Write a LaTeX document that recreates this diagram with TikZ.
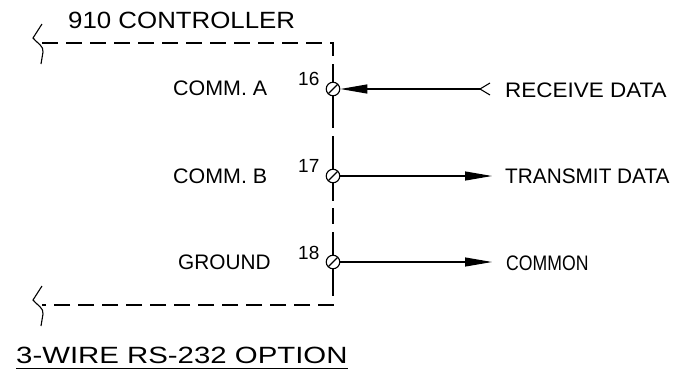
\documentclass[tikz,border=0pt]{standalone}
\usepackage{fontspec}
\setmainfont{Liberation Sans}
\usetikzlibrary{arrows.meta}
\newcommand{\fsz}[1]{\fontsize{#1}{#1}\selectfont}
\begin{document}
\begin{tikzpicture}[x=1pt,y=-1pt,
  wire/.style={line width=1.1pt},
  dashwire/.style={line width=1.1pt, dash pattern=on 16pt off 8pt},
  term/.style={circle, draw, line width=1.1pt, fill=white, minimum size=13.5pt, inner sep=0pt},
  lbl/.style={anchor=west, inner sep=0pt, font=\fsz{21}},
  num/.style={anchor=west, inner sep=0pt, font=\fsz{19}},
  big/.style={anchor=west, inner sep=0pt, font=\fsz{23.5}},
  tip/.style={-{Triangle[length=27pt,width=9pt]}}]
\useasboundingbox (0,0) rectangle (683,370);
\fill[white] (0,0) rectangle (683,370);

% frame corners
\coordinate (tl) at (42,43);
\coordinate (tr) at (333,43);
\coordinate (br) at (333,305);
\coordinate (bl) at (42,305);
\draw[dashwire] (tl) -- (tr) -- (br) -- (bl);

% break marks
\draw[wire] (42,24) -- (33,38) .. controls (37,43) and (44,46) .. (43,52) -- (41,64);
\draw[wire] (42,286) -- (33,300) .. controls (37,305) and (44,308) .. (43,314) -- (41,326);

% terminals
\node[term] (t16) at (333,89) {};
\node[term] (t17) at (333,176) {};
\node[term] (t18) at (333,262) {};
\foreach \t in {t16,t17,t18}{
  \draw[wire] ([shift={(-4.5,4.5)}]\t.center) -- ([shift={(4.5,-4.5)}]\t.center);
  \draw[wire] ([yshift=17pt]\t.north) -- (\t.north);
  \draw[wire] (\t.south) -- ([yshift=-18pt]\t.south);
}

% texts
\node[big] (ctl) at (68,20) {\scalebox{1.1}[1]{910 CONTROLLER}};
\node[lbl] (ca) at (173,88) {\scalebox{1.02}[1]{COMM. A}};
\node[lbl] (cb) at (173,176) {\scalebox{1.02}[1]{COMM. B}};
\node[lbl] (gnd) at (178,262) {\scalebox{0.99}[1]{GROUND}};
\node[num] (n16) at (298,79) {16};
\node[num] (n17) at (298,166) {17};
\node[num] (n18) at (298,253) {18};
\node[lbl] (rx) at (505,90) {\scalebox{1.07}[1]{RECEIVE DATA}};
\node[lbl] (tx) at (505,176) {\scalebox{0.99}[1]{TRANSMIT DATA}};
\node[lbl] (com) at (506,263) {\scalebox{0.84}[1]{COMMON}};
\node[big] (title) at (16,355) {\scalebox{1.25}[1]{3-WIRE RS-232 OPTION}};
\draw[wire] ([yshift=-5pt]title.base west) -- ([yshift=-5pt]title.base east);

% connectors
\coordinate (rxe) at (480,89);
\coordinate (txe) at (492,176);
\coordinate (come) at (492,262);
\draw[wire] ([shift={(10,-6)}]rxe) -- (rxe) -- ([shift={(10,6)}]rxe);
\draw[wire, tip] (rxe) -- (t16.east);
\draw[wire, tip] (t17.east) -- (txe);
\draw[wire, tip] (t18.east) -- (come);
\end{tikzpicture}
\end{document}
